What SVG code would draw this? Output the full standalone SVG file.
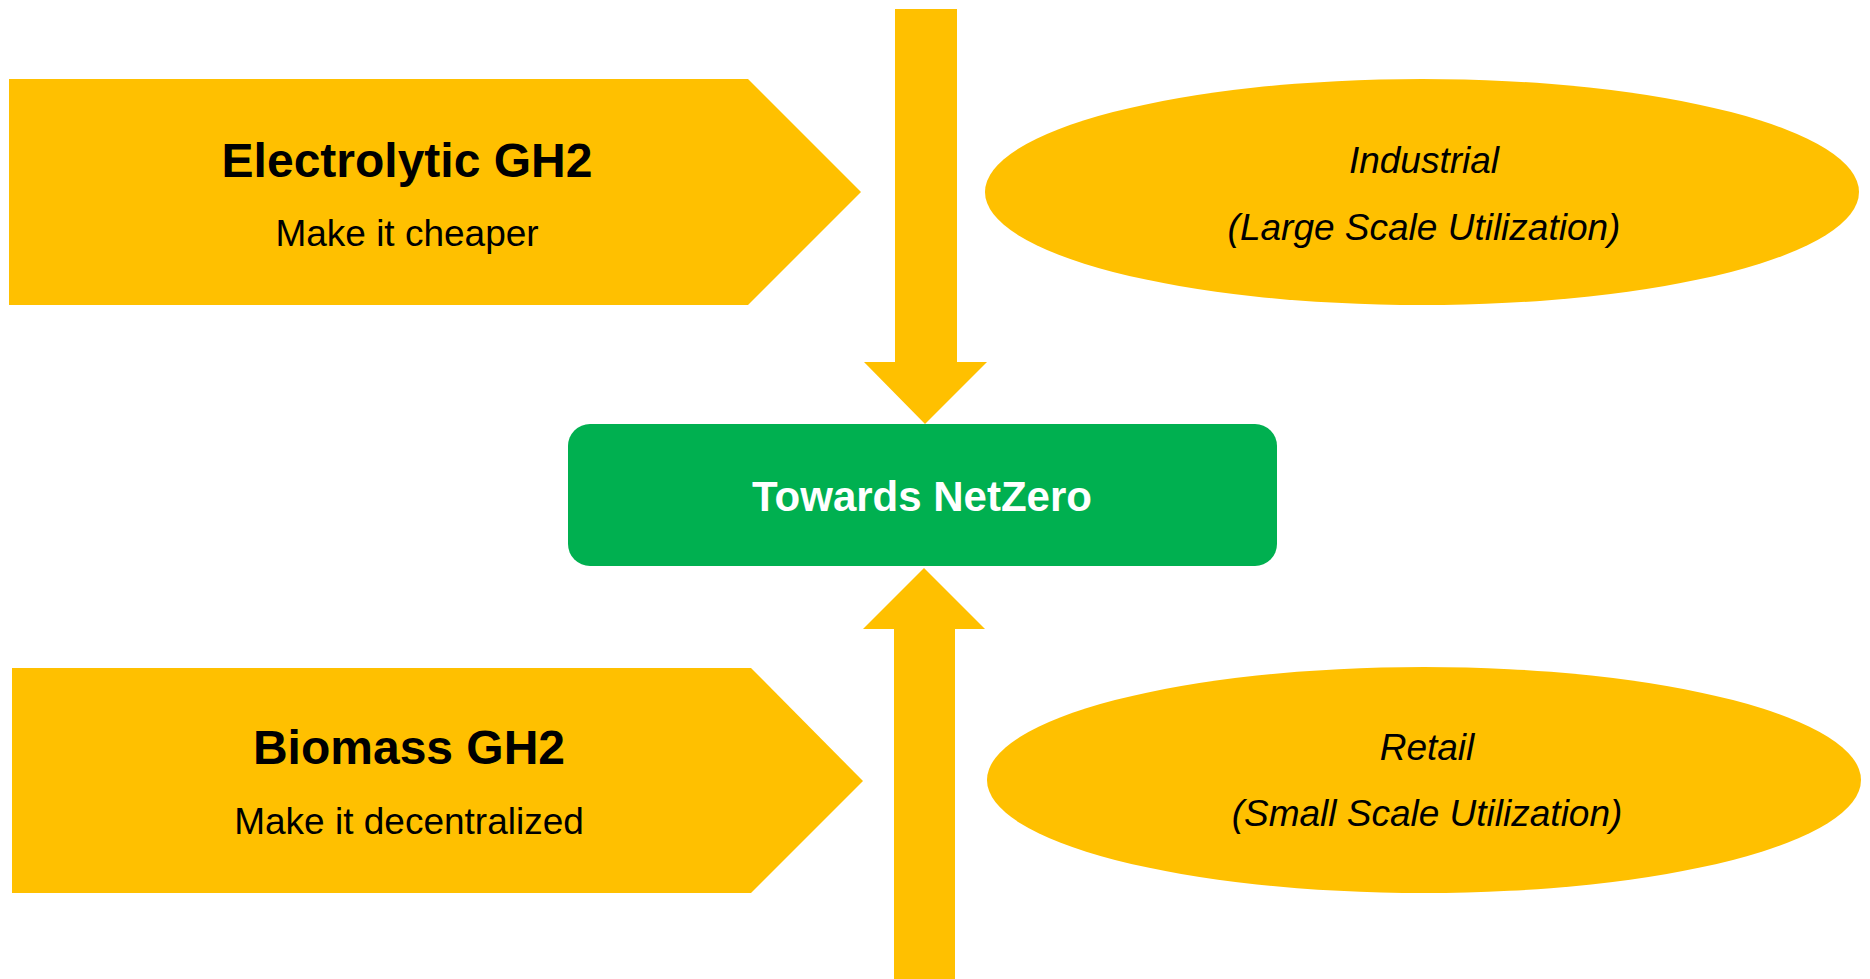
<svg xmlns="http://www.w3.org/2000/svg" width="1870" height="979" viewBox="0 0 1870 979">
<style>
.y{fill:#FFC000}
.g{fill:#00B050}
.t{font-family:"Liberation Sans",Arial,sans-serif;font-weight:bold;font-size:48px;fill:#000;text-anchor:middle}
.s{font-family:"Liberation Sans",Arial,sans-serif;font-size:37px;fill:#000;text-anchor:middle}
.i{font-family:"Liberation Sans",Arial,sans-serif;font-style:italic;font-size:37px;fill:#000;text-anchor:middle}
.w{font-family:"Liberation Sans",Arial,sans-serif;font-weight:bold;font-size:42px;fill:#fff;text-anchor:middle}
</style>
<rect width="1870" height="979" fill="#fff"/>
<g id="connectors">
<polygon class="y" points="895,9 957,9 957,362 987,362 925,424 864,362 895,362"/>
<polygon class="y" points="924,568 985,629 955,629 955,979 894,979 894,629 863,629"/>
</g>
<g id="electrolytic">
<polygon class="y" points="9,79 748,79 861,192 748,305 9,305"/>
<text class="t" x="407" y="177">Electrolytic GH2</text>
<text class="s" x="407" y="246">Make it cheaper</text>
</g>
<g id="biomass">
<polygon class="y" points="12,668 751,668 863,781 751,893 12,893"/>
<text class="t" x="409" y="764">Biomass GH2</text>
<text class="s" x="409" y="834">Make it decentralized</text>
</g>
<g id="industrial">
<ellipse class="y" cx="1422" cy="192" rx="437" ry="113"/>
<text class="i" x="1424" y="173">Industrial</text>
<text class="i" x="1424" y="240">(Large Scale Utilization)</text>
</g>
<g id="retail">
<ellipse class="y" cx="1424" cy="780" rx="437" ry="113"/>
<text class="i" x="1427" y="760">Retail</text>
<text class="i" x="1427" y="826">(Small Scale Utilization)</text>
</g>
<g id="netzero">
<rect class="g" x="568" y="424" width="709" height="142" rx="22" ry="22"/>
<text class="w" x="922" y="511">Towards NetZero</text>
</g>
</svg>
